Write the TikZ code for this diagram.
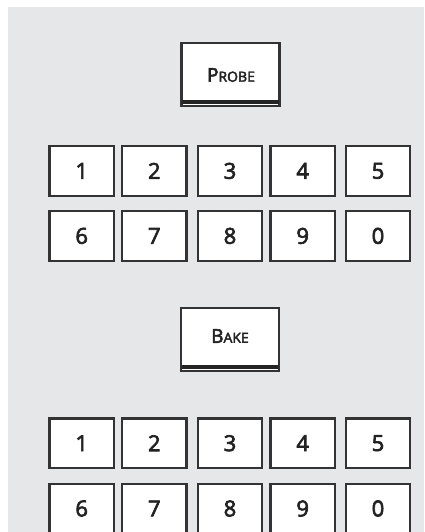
\documentclass[tikz,border=0pt]{standalone}
\usepackage{fontspec}
\setmainfont{Open Sans}[FakeBold=3]
\definecolor{panel}{HTML}{E6E7E8}
\definecolor{edge}{HTML}{333333}
\definecolor{ink}{HTML}{222222}
\newcommand{\fakesc}[2]{{\fontsize{19}{19}\selectfont #1}{\fontsize{14}{14}\selectfont #2}}
\begin{document}
\begin{tikzpicture}[x=1pt,y=-1pt,
  key/.style={draw=edge,line width=2.3pt,fill=white,minimum width=64.5pt,minimum height=49.5pt,inner sep=0pt,font=\fontsize{22}{22}\selectfont,text=ink},
  bigkey/.style={draw=edge,line width=2.3pt,fill=white,minimum width=98pt,minimum height=63pt,inner sep=0pt},
  bar/.style={fill=edge!70!black}]
\useasboundingbox (0,0) rectangle (424,532);
\fill[panel] (8,7) rectangle (424,532);
% Probe button
\node[bigkey] (probe) at (230.5,74.5) {};
\node[anchor=center,text=ink] (probetext) at (231,75) {\fakesc{P}{ROBE}};
\fill[bar] ([xshift=2pt,yshift=3pt]probe.south west) rectangle ([xshift=-2pt,yshift=7pt]probe.south east);
% top keypad
\foreach \n/\x/\y in {1/81.7/170.9,2/154.3/170.9,3/230/170.9,4/302.7/170.9,5/378/170.9,
                      6/81.7/235.9,7/154.3/235.9,8/230/235.9,9/302.7/235.9,0/378/235.9}
  \node[key] (ta\n) at (\x,\y) {\n};
% Bake button
\node[bigkey] (bake) at (230,339.2) {};
\node[anchor=center,text=ink] (baketext) at (230,336) {\fakesc{B}{AKE}};
\fill[bar] ([xshift=2pt,yshift=3pt]bake.south west) rectangle ([xshift=-2pt,yshift=7pt]bake.south east);
% bottom keypad
\foreach \n/\x/\y in {1/81.7/443.2,2/154.3/443.2,3/230/443.2,4/302.7/443.2,5/378/443.2,
                      6/81.7/508.5,7/154.3/508.5,8/230/508.5,9/302.7/508.5,0/378/508.5}
  \node[key] (bk\n) at (\x,\y) {\n};
\end{tikzpicture}
\end{document}
